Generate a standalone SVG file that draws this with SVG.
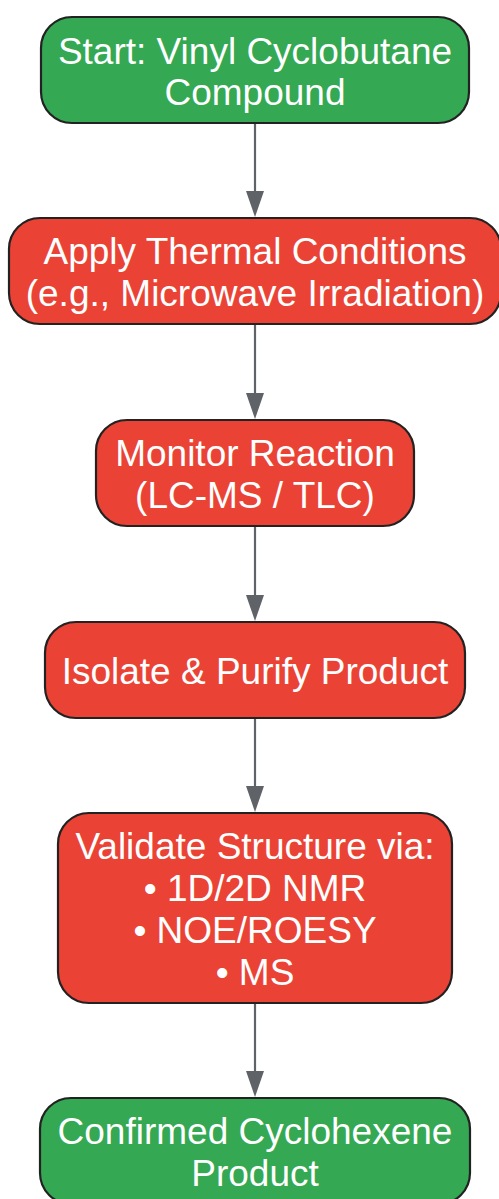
<svg xmlns="http://www.w3.org/2000/svg" width="499" height="1199" viewBox="0 0 499 1199">
<style>
.n{stroke:#222;stroke-width:2.2}
.g{fill:#34a853}
.r{fill:#ea4335}
text{font-family:"Liberation Sans",Arial,sans-serif;font-size:37px;fill:#fff;text-anchor:middle}
.e{stroke:#5f6368;stroke-width:2.2;fill:none}
</style>
<defs>
<marker id="ah" viewBox="0 0 26 18" refX="18" refY="9" markerWidth="26" markerHeight="18" markerUnits="userSpaceOnUse" orient="auto">
<path d="M0,0 L26,9 L0,18 Z" fill="#5f6368"/>
</marker>
</defs>
<rect width="499" height="1199" fill="#fff"/>
<g id="connectors">
<line class="e" x1="255" y1="123" x2="255" y2="209" marker-end="url(#ah)"/>
<line class="e" x1="255" y1="324" x2="255" y2="411" marker-end="url(#ah)"/>
<line class="e" x1="255" y1="526" x2="255" y2="613" marker-end="url(#ah)"/>
<line class="e" x1="255" y1="718" x2="255" y2="804" marker-end="url(#ah)"/>
<line class="e" x1="255" y1="1003" x2="255" y2="1089" marker-end="url(#ah)"/>
</g>
<g id="n1">
<rect class="n g" x="41" y="17" width="428" height="106" rx="31"/>
<text x="255" y="64">Start: Vinyl Cyclobutane</text>
<text x="255" y="105">Compound</text>
</g>
<g id="n2">
<rect class="n r" x="9" y="218" width="492" height="106" rx="31"/>
<text x="255" y="264">Apply Thermal Conditions</text>
<text x="255" y="306">(e.g., Microwave Irradiation)</text>
</g>
<g id="n3">
<rect class="n r" x="96" y="420" width="318" height="106" rx="31"/>
<text x="255" y="466">Monitor Reaction</text>
<text x="255" y="508">(LC-MS / TLC)</text>
</g>
<g id="n4">
<rect class="n r" x="45" y="622" width="420" height="96" rx="31"/>
<text x="255" y="684">Isolate &amp; Purify Product</text>
</g>
<g id="n5">
<rect class="n r" x="58" y="813" width="394" height="190" rx="31"/>
<text x="255" y="859">Validate Structure via:</text>
<text x="255" y="901">• 1D/2D NMR</text>
<text x="255" y="943">• NOE/ROESY</text>
<text x="255" y="985">• MS</text>
</g>
<g id="n6">
<rect class="n g" x="40" y="1098" width="430" height="106" rx="31"/>
<text x="255" y="1144">Confirmed Cyclohexene</text>
<text x="255" y="1186">Product</text>
</g>
</svg>
